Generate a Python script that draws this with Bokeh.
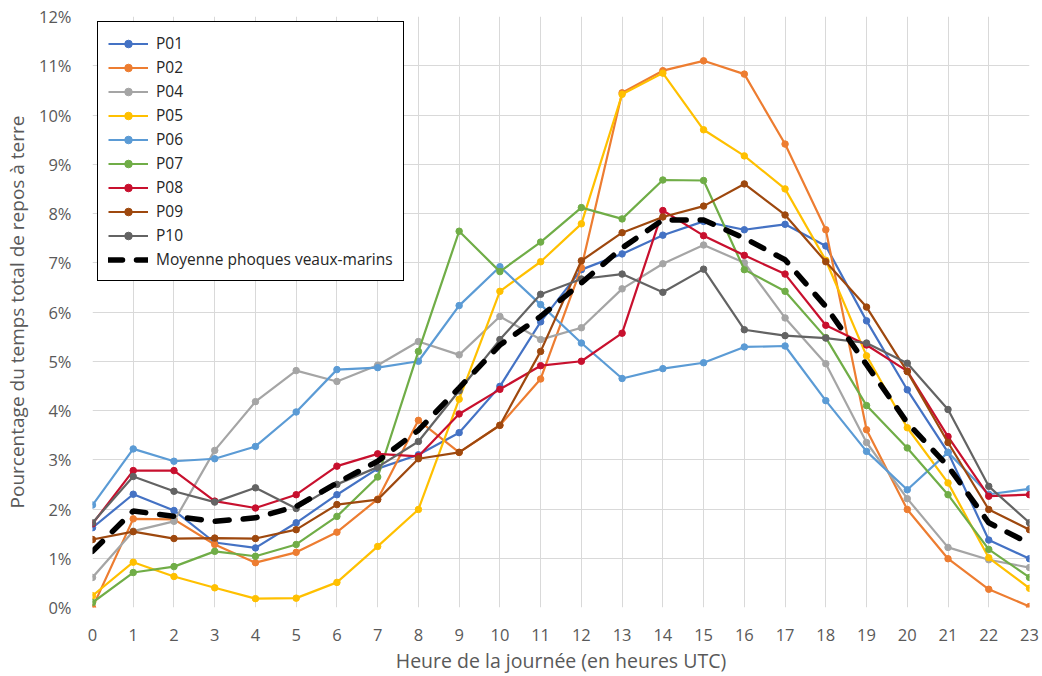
from bokeh.plotting import figure
from bokeh.models import Range1d, FixedTicker, Legend, LegendItem
from bokeh.embed import file_html
from bokeh.resources import INLINE

hours = list(range(24))
series_names = ["P01", "P02", "P04", "P05", "P06", "P07", "P08", "P09", "P10"]

p01 = [1.62, 2.30, 1.97, 1.32, 1.21, 1.72, 2.29, 2.82, 3.10, 3.55, 4.49, 5.80, 6.86, 7.18, 7.56, 7.84, 7.67, 7.78, 7.34, 5.82, 4.42, 3.15, 1.37, 0.99]
p02 = [0.00, 1.80, 1.79, 1.28, 0.91, 1.12, 1.53, 2.20, 3.80, 3.15, 3.70, 4.64, 6.90, 10.45, 10.90, 11.10, 10.83, 9.41, 7.67, 3.61, 1.99, 0.99, 0.37, 0.02]
p04 = [0.61, 1.55, 1.75, 3.19, 4.18, 4.81, 4.59, 4.92, 5.40, 5.13, 5.91, 5.44, 5.68, 6.47, 6.98, 7.36, 7.00, 5.88, 4.95, 3.35, 2.21, 1.22, 0.97, 0.81]
p05 = [0.24, 0.92, 0.63, 0.40, 0.18, 0.19, 0.51, 1.24, 1.99, 4.23, 6.42, 7.02, 7.79, 10.42, 10.85, 9.70, 9.17, 8.50, 7.05, 5.11, 3.65, 2.53, 1.01, 0.39]
p06 = [2.08, 3.22, 2.97, 3.02, 3.27, 3.97, 4.83, 4.87, 5.00, 6.13, 6.92, 6.15, 5.37, 4.65, 4.85, 4.97, 5.29, 5.31, 4.20, 3.17, 2.39, 3.15, 2.30, 2.41]
p07 = [0.10, 0.71, 0.83, 1.14, 1.04, 1.28, 1.85, 2.65, 5.20, 7.64, 6.82, 7.42, 8.12, 7.89, 8.68, 8.67, 6.86, 6.42, 5.48, 4.10, 3.24, 2.29, 1.18, 0.61]
p08 = [1.70, 2.78, 2.78, 2.16, 2.02, 2.29, 2.87, 3.12, 3.07, 3.93, 4.43, 4.91, 5.00, 5.57, 8.06, 7.55, 7.15, 6.77, 5.73, 5.33, 4.80, 3.47, 2.26, 2.29]
p09 = [1.38, 1.54, 1.40, 1.41, 1.40, 1.58, 2.09, 2.19, 3.02, 3.15, 3.70, 5.20, 7.04, 7.61, 7.93, 8.15, 8.60, 7.97, 7.02, 6.10, 4.79, 3.35, 1.99, 1.58]
p10 = [1.72, 2.66, 2.36, 2.14, 2.43, 2.01, 2.50, 2.85, 3.37, 4.40, 5.44, 6.36, 6.67, 6.77, 6.40, 6.87, 5.64, 5.52, 5.47, 5.37, 4.96, 4.02, 2.46, 1.72]
mean = [1.14, 1.96, 1.85, 1.75, 1.82, 2.05, 2.53, 2.97, 3.60, 4.46, 5.33, 5.91, 6.59, 7.30, 7.87, 7.87, 7.50, 7.06, 6.11, 4.93, 3.75, 2.87, 1.72, 1.30]
mean_name = "Moyenne phoques veaux-marins"

y_ticks = list(range(13))
x_ticks = hours

colors = ["#4472C4", "#ED7D31", "#A5A5A5", "#FFC000", "#5B9BD5",
          "#70AD47", "#C8102E", "#9E480E", "#636363"]
all_series = [p01, p02, p04, p05, p06, p07, p08, p09, p10]

FONT = "Open Sans"
TXT = "#595959"

p = figure(width=1042, height=676, x_range=Range1d(0, 23), y_range=Range1d(0, 12),
           output_backend="svg", toolbar_location=None,
           min_border_left=92, min_border_right=13, min_border_top=16, min_border_bottom=68)
p.background_fill_color = "white"
p.border_fill_color = "white"
p.outline_line_color = None

items = []
for name, ys, c in zip(series_names, all_series, colors):
    r1 = p.line(hours, ys, line_color=c, line_width=2.2)
    r2 = p.scatter(hours, ys, marker="circle", size=6.5, fill_color=c, line_color=c)
    items.append(LegendItem(label=name, renderers=[r1, r2]))

rm = p.line(hours, mean, line_color="black", line_width=5.5, line_dash="14 14", line_cap="round")
items.append(LegendItem(label=mean_name, renderers=[rm]))

p.xaxis.ticker = FixedTicker(ticks=x_ticks)
p.yaxis.ticker = FixedTicker(ticks=y_ticks)
p.yaxis.major_label_overrides = {t: f"{t}%" for t in y_ticks}

for ax in (p.xaxis[0], p.yaxis[0]):
    ax.axis_line_color = None
    ax.major_tick_line_color = None
    ax.minor_tick_line_color = None
    ax.major_label_text_font = FONT
    ax.major_label_text_font_size = "16.5px"
    ax.major_label_text_color = TXT
    ax.axis_label_text_font = FONT
    ax.axis_label_text_font_style = "normal"
    ax.axis_label_text_color = TXT

p.xaxis.axis_label = "Heure de la journée (en heures UTC)"
p.yaxis.axis_label = "Pourcentage du temps total de repos à terre"
p.xaxis.axis_label_text_font_size = "19.5px"
p.yaxis.axis_label_text_font_size = "19px"
p.xaxis.major_label_standoff = 15
p.xaxis.axis_label_standoff = 3
p.yaxis.major_label_standoff = 15
p.yaxis.axis_label_standoff = 6

p.xgrid.grid_line_color = "#D9D9D9"
p.ygrid.grid_line_color = "#D9D9D9"
p.xgrid.grid_line_width = 1
p.ygrid.grid_line_width = 1

legend = Legend(items=items, location="top_left")
legend.margin = 5
legend.padding = 10
legend.spacing = 2
legend.label_height = 19
legend.glyph_height = 19
legend.glyph_width = 40
legend.label_standoff = 8
legend.label_text_font = FONT
legend.label_text_font_size = "15.5px"
legend.label_text_color = "#262626"
legend.border_line_color = "black"
legend.border_line_width = 1
legend.border_line_alpha = 1
legend.background_fill_color = "white"
legend.background_fill_alpha = 1
p.add_layout(legend)

open("out.html", "w").write(file_html(p, INLINE))
